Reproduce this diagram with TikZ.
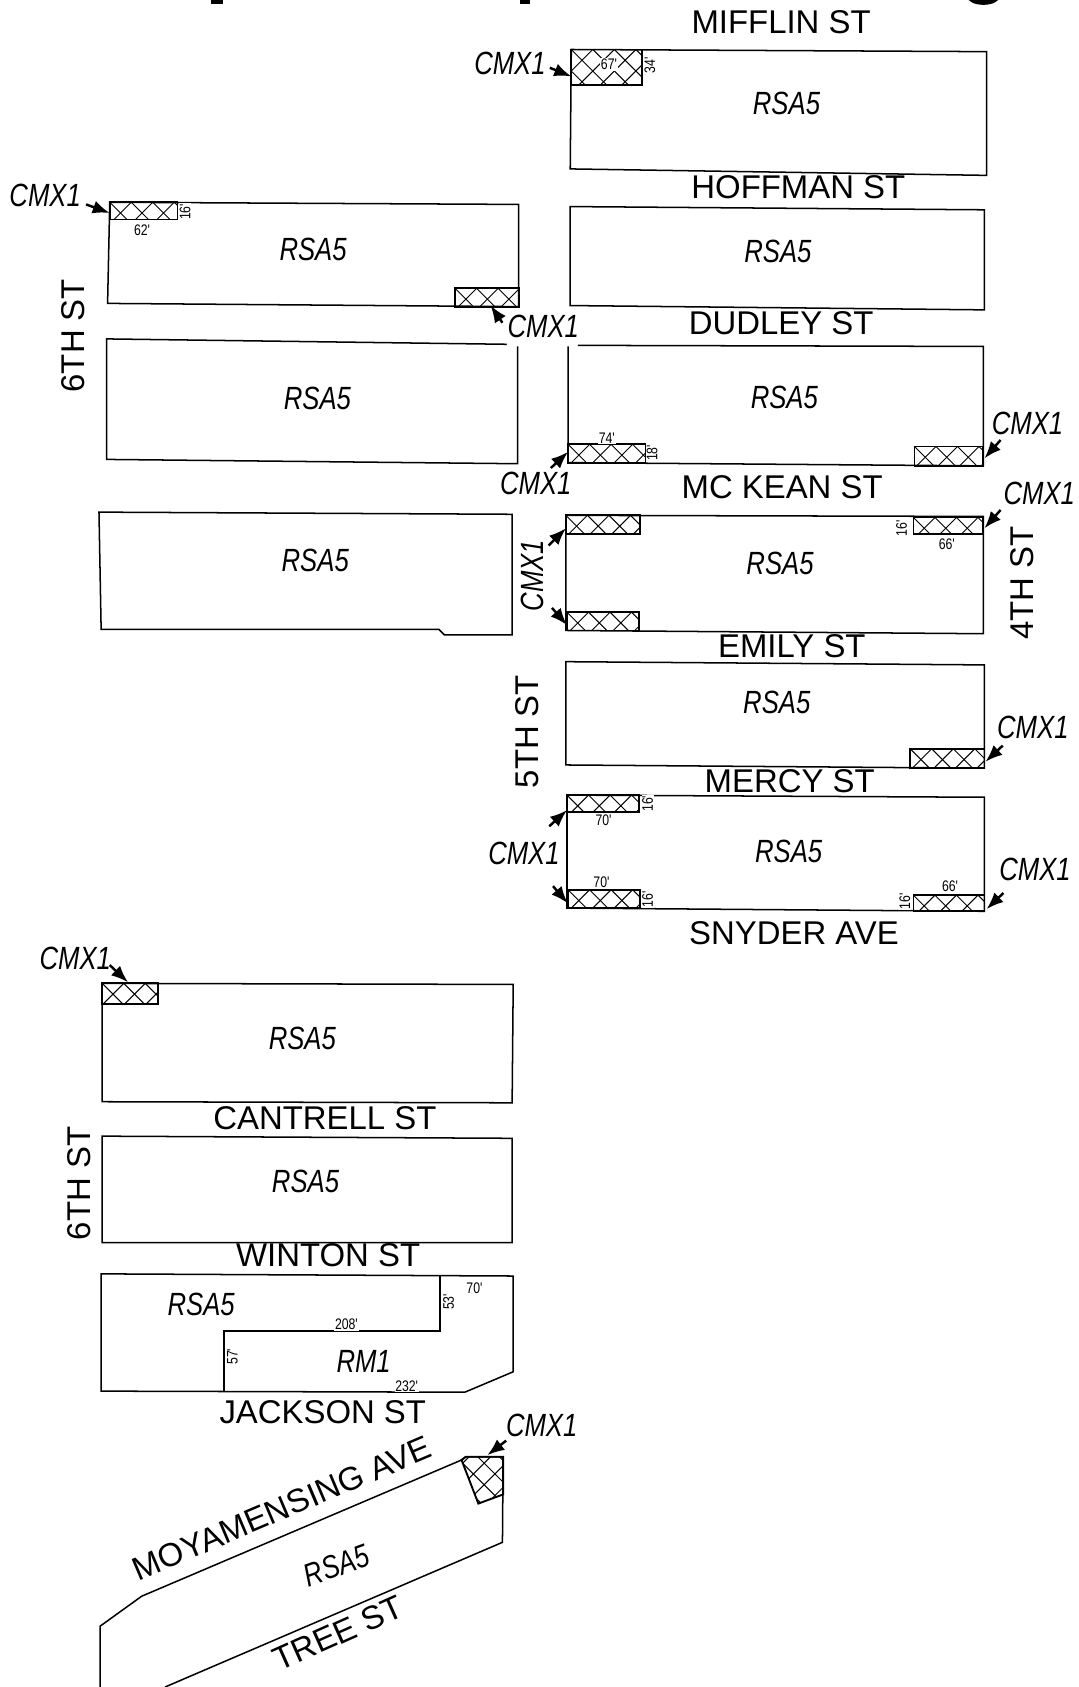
\documentclass[tikz,border=0pt]{standalone}
\usepackage{fontspec}
\setmainfont{Liberation Sans}
\newfontfamily\narrowfont[FakeStretch=0.8]{Liberation Sans}
\usetikzlibrary{arrows.meta}
\tikzset{
  lot/.style={draw=black,line width=0.8pt,line join=miter},
  hatchline/.style={draw=black,line width=0.5pt},
  hatchedge/.style={draw=black,line width=1pt},
  street/.style={inner sep=0pt,font=\fontsize{17.4}{20}\selectfont},
  zone/.style={inner sep=0pt,font=\narrowfont\fontsize{17}{20}\selectfont\itshape},
  dimtext/.style={inner sep=0.4pt,fill=white,font=\narrowfont\fontsize{8.1}{10}\selectfont},
  leader/.style={-{Latex[length=9pt,width=7pt]},line width=1.3pt},
}
\newcommand{\hatchzone}[3]{
  \begin{scope}
    \clip #3;
    \foreach \d in {-100,-80,...,100} {
      \draw[hatchline] ({#1+\d-50},{#2-50}) -- ({#1+\d+50},{#2+50});
      \draw[hatchline] ({#1+\d+50},{#2-50}) -- ({#1+\d-50},{#2+50});
    }
  \end{scope}
  \draw[hatchedge] #3;
}
\begin{document}
\begin{tikzpicture}[x=0.02cm,y=-0.02cm]
  \useasboundingbox (0,0) rectangle (1002,1568);
  \fill (196,0) rectangle (207,3.3);
  \fill (483,0) rectangle (493,3.3);
  \begin{scope}
    \clip (890,0) rectangle (940,6);
    \fill (914,-3) ellipse (15 and 7.5);
  \end{scope}

  % blocks
  \draw[lot] (531,46) -- (917,48) -- (917,163) -- (530,157) -- cycle;
  \draw[lot] (530,192) -- (915,195) -- (915,288) -- (530,284) -- cycle;
  \draw[lot] (102,188) -- (482,190) -- (482,285) -- (100,282) -- cycle;
  \draw[lot] (471,320) -- (99,315) -- (99,427) -- (481,431) -- (481,322);
  \draw[lot] (537,321) -- (914,322) -- (914,433) -- (528,430) -- (528,322);
  \draw[lot] (92,476) -- (476,478) -- (476,590) -- (413,590) -- (408,585) -- (94,585) -- cycle;
  \draw[lot] (526,479) -- (914,480) -- (914,589) -- (526,586) -- cycle;
  \draw[lot] (526,615) -- (915,618) -- (915,714) -- (526,711) -- cycle;
  \draw[lot] (527,739) -- (915,741) -- (915,847) -- (527,844) -- cycle;
  \draw[lot] (95,914) -- (477,915) -- (476,1025) -- (95,1024) -- cycle;
  \draw[lot] (95,1056) -- (476,1058) -- (476,1155) -- (95,1155) -- cycle;
  \draw[lot] (94,1184) -- (477,1186) -- (477,1275) -- (432,1294) -- (94,1293) -- cycle;
  \draw[lot] (409,1186) -- (409,1237) -- (208,1237) -- (208,1294);
  \draw[lot] (153.4,1568) -- (467,1433.5) -- (467.6,1354) -- (433,1354) -- (429,1357) -- (131.7,1483.6) -- (93,1511.5) -- (93,1568);

  % hatched corners
  \hatchzone{531}{46}{(531,46) rectangle (597,79)}
  \hatchzone{102}{188}{(102,188) rectangle (165,204)}
  \hatchzone{423}{268}{(423,268) rectangle (482,285)}
  \hatchzone{528}{413}{(528,413) rectangle (600,430)}
  \hatchzone{850}{415}{(850,415) rectangle (914,433)}
  \hatchzone{526}{479}{(526,479) rectangle (595,496)}
  \hatchzone{849}{481}{(849,481) rectangle (914,496)}
  \hatchzone{527}{569}{(527,569) rectangle (594,586)}
  \hatchzone{846}{696}{(846,696) rectangle (915,714)}
  \hatchzone{527}{739}{(527,739) rectangle (594,755)}
  \hatchzone{528}{827}{(528,827) rectangle (595,844)}
  \hatchzone{849}{832}{(849,832) rectangle (915,847)}
  \hatchzone{95}{914}{(95,914) rectangle (147,933)}
  \hatchzone{440}{1370}{(433,1354) -- (467.6,1354) -- (467.6,1389) -- (444.6,1397.5) -- (429,1357) -- cycle}

  % street names
  \node[street] (mifflin) at (726,21) {MIFFLIN ST};
  \node[street] (hoffman) at (742,174) {HOFFMAN ST};
  \node[street] (dudley) at (726,300) {DUDLEY ST};
  \node[street] (mckean) at (727,453) {MC KEAN ST};
  \node[street] (emily) at (736,601) {EMILY ST};
  \node[street] (mercy) at (734,726) {MERCY ST};
  \node[street] (snyder) at (738,867) {SNYDER AVE};
  \node[street] (cantrell) at (302,1039) {CANTRELL ST};
  \node[street] (winton) at (305,1167) {WINTON ST};
  \node[street] (jackson) at (300,1313) {JACKSON ST};
  \node[street,rotate=90] (sixtha) at (68,312) {6TH ST};
  \node[street,rotate=90] (sixthb) at (74,1100) {6TH ST};
  \node[street,rotate=90] (fifth) at (490,680) {5TH ST};
  \node[street,rotate=90] (fourth) at (950,542) {4TH ST};
  \node[street,rotate=23] (moyamensing) at (261.8,1402) {MOYAMENSING AVE};
  \node[street,rotate=24] (tree) at (314.4,1518) {TREE ST};

  % zoning
  \node[zone] (rsaa) at (731,96) {RSA5};
  \node[zone] (rsab) at (723,234) {RSA5};
  \node[zone] (rsac) at (291,232) {RSA5};
  \node[zone] (rsad) at (295,370) {RSA5};
  \node[zone] (rsae) at (729,369) {RSA5};
  \node[zone] (rsaf) at (293,521) {RSA5};
  \node[zone] (rsag) at (725,524) {RSA5};
  \node[zone] (rsah) at (722,653) {RSA5};
  \node[zone] (rsai) at (733,791) {RSA5};
  \node[zone] (rsaj) at (281,965) {RSA5};
  \node[zone] (rsak) at (284,1098) {RSA5};
  \node[zone] (rsal) at (187,1212) {RSA5};
  \node[zone] (rma) at (338,1265) {RM1};
  \node[zone,rotate=20] (rsam) at (313,1455) {RSA5};

  % dimensions
  \node[dimtext] (dima) at (566,60) {67'};
  \node[dimtext,rotate=90] (dimb) at (604,61) {34'};
  \node[dimtext,rotate=90] (dimc) at (172,197) {16'};
  \node[dimtext] (dimd) at (132,214) {62'};
  \node[dimtext] (dime) at (564,407) {74'};
  \node[dimtext,rotate=90] (dimf) at (606,421) {18'};
  \node[dimtext,rotate=90] (dimg) at (838,491) {16'};
  \node[dimtext] (dimh) at (880,506) {66'};
  \node[dimtext,rotate=90] (dimi) at (602,747) {16'};
  \node[dimtext] (dimj) at (561,762) {70'};
  \node[dimtext,rotate=90] (dimk) at (602,836) {16'};
  \node[dimtext] (diml) at (559,820) {70'};
  \node[dimtext,rotate=90] (dimm) at (841,838) {16'};
  \node[dimtext] (dimn) at (883,824) {66'};
  \node[dimtext] (dimo) at (441,1197) {70'};
  \node[dimtext,rotate=90] (dimp) at (417,1210) {53'};
  \node[dimtext] (dimq) at (322,1231) {208'};
  \node[dimtext,rotate=90] (dimr) at (216,1261) {57'};
  \node[dimtext] (dims) at (378,1288) {232'};

  % overlay labels
  \node[zone] (cmxa) at (474,59) {CMX1};
  \node[zone] (cmxb) at (42,182) {CMX1};
  \node[zone] (cmxc) at (505,303) {CMX1};
  \node[zone] (cmxd) at (498,449) {CMX1};
  \node[zone] (cmxe) at (955,394) {CMX1};
  \node[zone,rotate=90] (cmxf) at (495,535) {CMX1};
  \node[zone] (cmxg) at (966,459) {CMX1};
  \node[zone] (cmxh) at (960,676) {CMX1};
  \node[zone] (cmxi) at (487,793) {CMX1};
  \node[zone] (cmxj) at (962,808) {CMX1};
  \node[zone] (cmxk) at (70,891) {CMX1};
  \node[zone] (cmxl) at (503.5,1324.6) {CMX1};

  \coordinate (tipa) at (531,71);
  \coordinate (tipb) at (102,198);
  \coordinate (tipc) at (456,284);
  \coordinate (tipd) at (528,420);
  \coordinate (tipe) at (915,426);
  \coordinate (tipf) at (526,491);
  \coordinate (tipg) at (527,581);
  \coordinate (tiph) at (915,491);
  \coordinate (tipi) at (916,708);
  \coordinate (tipj) at (527,753);
  \coordinate (tipk) at (527.7,839.6);
  \coordinate (tipl) at (917,845);
  \coordinate (tipm) at (119,913);
  \coordinate (tipn) at (453,1352.5);

  \draw[leader] ([shift={(37,4)}]cmxa.center) -- (tipa);
  \draw[leader] ([shift={(38,8)}]cmxb.center) -- (tipb);
  \draw[leader] ([shift={(-38,-3)}]cmxc.center) -- (tipc);
  \draw[leader] ([shift={(14,-14)}]cmxd.center) -- (tipd);
  \draw[leader] ([shift={(-25,15)}]cmxe.center) -- (tipe);
  \draw[leader] ([shift={(15,-28)}]cmxf.center) -- (tipf);
  \draw[leader] ([shift={(18,30)}]cmxf.center) -- (tipg);
  \draw[leader] ([shift={(-36,15)}]cmxg.center) -- (tiph);
  \draw[leader] ([shift={(-28,17)}]cmxh.center) -- (tipi);
  \draw[leader] ([shift={(23.5,-25)}]cmxi.center) -- (tipj);
  \draw[leader] ([shift={(27,30.6)}]cmxi.center) -- (tipk);
  \draw[leader] ([shift={(-29.4,22)}]cmxj.center) -- (tipl);
  \draw[leader] ([shift={(32,6)}]cmxk.center) -- (tipm);
  \draw[leader] ([shift={(-33,14.4)}]cmxl.center) -- (tipn);
\end{tikzpicture}
\end{document}
